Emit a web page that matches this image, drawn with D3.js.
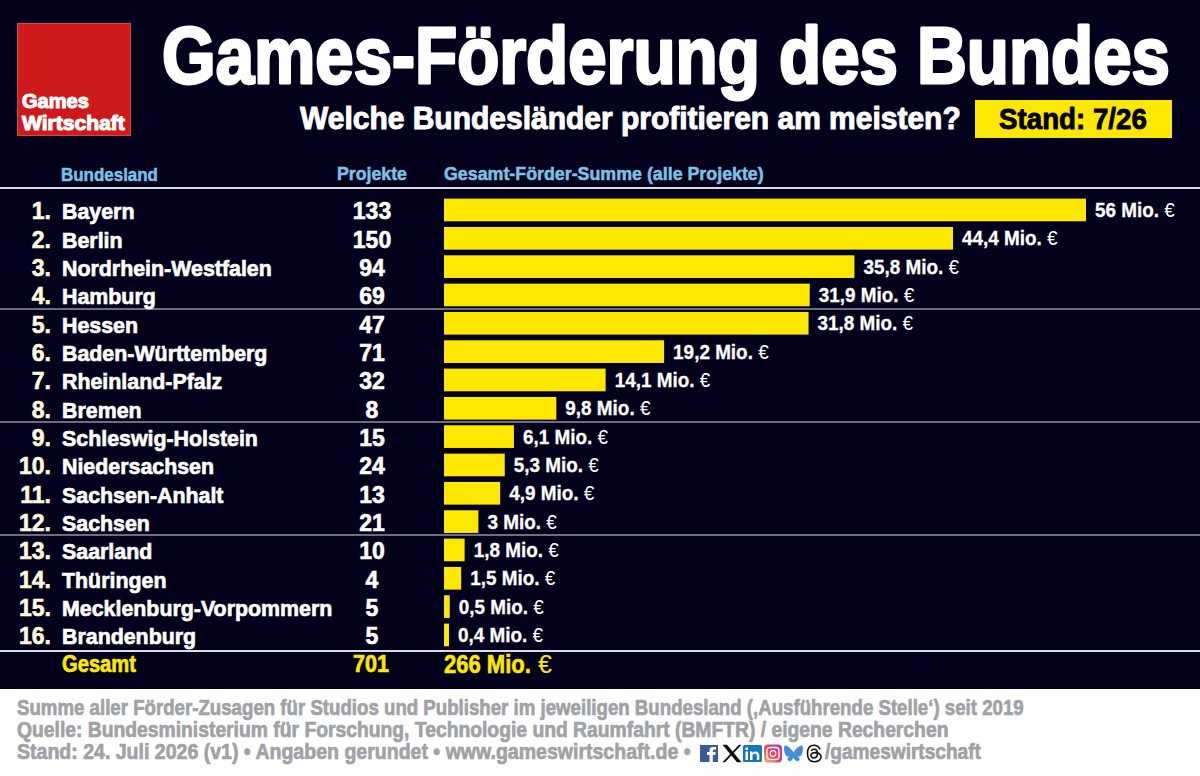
<!DOCTYPE html>
<html lang="de">
<head>
<meta charset="utf-8">
<script src="https://cdn.jsdelivr.net/npm/d3@7/dist/d3.min.js"></script>
<style>
  html, body { margin: 0; padding: 0; background: #fff; }
  svg { display: block; }
  text { font-family: "Liberation Sans Narrow", "Liberation Sans", sans-serif; font-weight: 700; }
</style>
</head>
<body>
<svg id="chart" width="1200" height="776"></svg>
<script>
const states = ["Bayern","Berlin","Nordrhein-Westfalen","Hamburg","Hessen","Baden-Württemberg","Rheinland-Pfalz","Bremen","Schleswig-Holstein","Niedersachsen","Sachsen-Anhalt","Sachsen","Saarland","Thüringen","Mecklenburg-Vorpommern","Brandenburg"];
const projects = [133,150,94,69,47,71,32,8,15,24,13,21,10,4,5,5];
const funding = [56,44.4,35.8,31.9,31.8,19.2,14.1,9.8,6.1,5.3,4.9,3,1.8,1.5,0.5,0.4];
const fundingLabels = ["56","44,4","35,8","31,9","31,8","19,2","14,1","9,8","6,1","5,3","4,9","3","1,8","1,5","0,5","0,4"];
const footnotes = [
  "Summe aller Förder-Zusagen für Studios und Publisher im jeweiligen Bundesland (‚Ausführende Stelle‘) seit 2019",
  "Quelle: Bundesministerium für Forschung, Technologie und Raumfahrt (BMFTR) / eigene Recherchen"
];

const svg = d3.select("#chart");
const NAVY = "#03001c", YELLOW = "#ffe800", BLUE = "#7cc3e3", GREY = "#a0a2a6", WHITE = "#ffffff";

const x = d3.scaleLinear().domain([0, 56]).range([444, 1086]);
const y = d3.scaleBand().domain(d3.range(16)).range([195.8, 649.1]).paddingInner(0.2).paddingOuter(0.1);
const rowMid = i => y(i) + y.bandwidth() / 2;

// Places a text and squeezes it horizontally so that it spans the given width.
function fitted(sel, str, left, baseline, size, width, fill, weight) {
  const g = sel.append("g").attr("transform", `translate(${left},${baseline})`);
  const t = g.append("text").attr("font-size", size).attr("fill", fill).text(str);
  if (weight) t.attr("stroke", fill).attr("stroke-width", weight).attr("stroke-linejoin", "round");
  const w = t.node().getComputedTextLength();
  g.attr("transform", `translate(${left},${baseline}) scale(${width / w},1)`);
  return g;
}

svg.append("rect").attr("width", 1200).attr("height", 776).attr("fill", WHITE);
svg.append("rect").attr("width", 1200).attr("height", 689).attr("fill", NAVY);

// Logo block
svg.append("rect").attr("x", 17.5).attr("y", 23.5).attr("width", 113).attr("height", 112)
  .attr("fill", "#cf1a1c").attr("stroke", "#d24a4c").attr("stroke-width", 1);
fitted(svg, "Games", 22, 108, 19.5, 67, WHITE, 1.1);
fitted(svg, "Wirtschaft", 22, 130, 19.5, 103, WHITE, 1.1);

// Header
fitted(svg, "Games-Förderung des Bundes", 162, 83, 80, 1008, WHITE, 3);
fitted(svg, "Welche Bundesländer profitieren am meisten?", 300, 129, 31, 661, WHITE, 1);
svg.append("rect").attr("x", 975).attr("y", 100).attr("width", 197).attr("height", 38).attr("fill", YELLOW);
fitted(svg, "Stand: 7/26", 999, 129, 29, 148, "#000", 0.9);

// Column headings
fitted(svg, "Bundesland", 61, 181, 19, 97, BLUE, 0.5);
fitted(svg, "Projekte", 337, 180, 19, 70, BLUE, 0.5);
fitted(svg, "Gesamt-Förder-Summe (alle Projekte)", 444, 180, 19, 320, BLUE, 0.5);

// Separators between rows
[[188, 2.2], [309, 1], [422, 1], [535, 1], [651, 2.2]].forEach(([yy, sw]) => {
  svg.append("line").attr("x1", 0).attr("x2", 1200).attr("y1", yy).attr("y2", yy)
    .attr("stroke", "#dcdce6").attr("stroke-width", sw);
});

// Rows: rank, name, projects
const rows = svg.append("g").selectAll("g").data(states).join("g");
rows.append("text").attr("x", 51).attr("y", (d, i) => rowMid(i) + 9.5)
  .attr("text-anchor", "end").attr("font-size", 23).attr("fill", "#fff8dc")
  .attr("stroke", "#fff8dc").attr("stroke-width", 0.6)
  .text((d, i) => `${i + 1}.`);
rows.append("text")
  .attr("transform", (d, i) => `translate(62,${rowMid(i) + 9.5}) scale(0.93,1)`)
  .attr("font-size", 23).attr("fill", WHITE).attr("stroke", WHITE).attr("stroke-width", 0.7)
  .text(d => d);
rows.append("text").attr("x", 372).attr("y", (d, i) => rowMid(i) + 9.5)
  .attr("text-anchor", "middle").attr("font-size", 23).attr("fill", WHITE)
  .attr("stroke", WHITE).attr("stroke-width", 0.6)
  .text((d, i) => projects[i]);

// Bars and their value labels
svg.append("g").selectAll("rect").data(funding).join("rect")
  .attr("x", x(0)).attr("y", (d, i) => y(i))
  .attr("width", d => Math.max(x(d) - x(0), 5)).attr("height", y.bandwidth())
  .attr("fill", YELLOW);
const valueLabels = svg.append("g").selectAll("text").data(funding).join("text")
  .attr("transform", (d, i) => `translate(${Math.max(x(d), x(0) + 5) + 9},${rowMid(i) + 7}) scale(0.97,1)`)
  .attr("font-size", 19.5).attr("fill", WHITE);
valueLabels.append("tspan").attr("stroke", WHITE).attr("stroke-width", 0.3)
  .text((d, i) => `${fundingLabels[i]} Mio. `);
valueLabels.append("tspan").style("font-weight", 400).text("€");

// Totals row
fitted(svg, "Gesamt", 62, 672, 24, 74, YELLOW, 0.7);
fitted(svg, "701", 353, 672, 24, 36, YELLOW, 0.7);
fitted(svg, "266 Mio.", 444, 673, 25, 87, YELLOW, 0.6);
svg.append("text").attr("x", 538).attr("y", 673).attr("font-size", 25).attr("fill", YELLOW)
  .style("font-weight", 400).text("€");

// Barely visible note in the totals row
svg.append("text").attr("x", 932).attr("y", 671).attr("font-size", 20).attr("fill", "#050510").text("2");
svg.append("text").attr("x", 948).attr("y", 671).attr("font-size", 10).attr("fill", "#050510").text("Mio. €");

// Footer
fitted(svg, footnotes[0], 17, 715, 21.5, 1007, GREY, 0.7);
fitted(svg, footnotes[1], 17, 737, 21.5, 932, GREY, 0.7);
fitted(svg, "Stand: 24. Juli 2026 (v1) • Angaben gerundet • www.gameswirtschaft.de •", 17, 759, 21.5, 674, GREY, 0.7);
fitted(svg, "/gameswirtschaft", 825, 759, 21.5, 156, GREY, 0.7);

// Social media icons in the footer line
const defs = svg.append("defs");
const insta = defs.append("linearGradient").attr("id", "instaFill")
  .attr("x1", 0).attr("y1", 1).attr("x2", 1).attr("y2", 0);
[["0%", "#fdc04f"], ["45%", "#ee3f5c"], ["100%", "#a43ac0"]].forEach(([o, c]) =>
  insta.append("stop").attr("offset", o).attr("stop-color", c));

const icons = svg.append("g");
icons.append("rect").attr("x", 700).attr("y", 745).attr("width", 18).attr("height", 17).attr("fill", "#3b5a9c");
icons.append("path").attr("d", "M709.5 762 V755 H707 V752 H709.5 V750 C709.5 747.5 711 746.5 716 747 V749.5 C713.5 749.3 712.8 749.8 712.8 751 V752 H715.8 L715.3 755 H712.8 V762 Z").attr("fill", WHITE);
icons.append("path").attr("d", "M723 745 L727 745 L741 762 L737 762 Z M739 745 L741 745 L725 762 L723 762 Z")
  .attr("fill", "#0a0a0a").attr("stroke", "#0a0a0a").attr("stroke-width", 0.5);
icons.append("rect").attr("x", 743).attr("y", 745).attr("width", 19).attr("height", 17).attr("rx", 1.5).attr("fill", "#1179b5");
icons.append("path").attr("d", "M745.5 751.5 H748 V760 H745.5 Z M745.5 747.5 H748 V750 H745.5 Z M750 751.5 H752.4 V753 C753.4 751 758.8 750.3 759.3 754.5 V760 H756.8 V755.5 C756.6 753 752.6 753 752.5 755.5 V760 H750 Z").attr("fill", WHITE);
icons.append("rect").attr("x", 764).attr("y", 744.5).attr("width", 18).attr("height", 18).attr("rx", 4).attr("fill", "url(#instaFill)");
icons.append("rect").attr("x", 767).attr("y", 747.5).attr("width", 12).attr("height", 12).attr("rx", 3).attr("fill", "none").attr("stroke", WHITE).attr("stroke-width", 1.3);
icons.append("circle").attr("cx", 773).attr("cy", 753.5).attr("r", 2.8).attr("fill", "none").attr("stroke", WHITE).attr("stroke-width", 1.2);
icons.append("path")
  .attr("d", "M793.5 752.5 C791 748 787 745 785 745.5 C783.5 746 784 751 785 754 C786 756.5 788 757 790 756.8 C787.5 757.5 786.5 759 788 760.5 C790 762.5 792.5 760 793.5 757.5 C794.5 760 797 762.5 799 760.5 C800.5 759 799.5 757.5 797 756.8 C799 757 801 756.5 802 754 C803 751 803.5 746 802 745.5 C800 745 796 748 793.5 752.5 Z")
  .attr("fill", "#3f8fdc");
icons.append("path")
  .attr("d", "M820 749.5 C819 746.5 816.5 745.3 814 745.3 C809.5 745.3 807.5 749 807.5 753.5 C807.5 758 809.5 761.7 814.5 761.7 C818.5 761.7 821 759.5 821 756.8 C821 753.8 818 752.4 814.5 752.6 C812 752.8 810.8 754.2 811 755.8 C811.2 757.4 813 758.1 814.5 757.9 C816.7 757.6 817.6 755.6 817.4 752.8 C817.2 750.3 815.6 749.2 813.8 749.3 C812.6 749.4 811.7 750 811.2 750.9")
  .attr("fill", "none").attr("stroke", "#111").attr("stroke-width", 1.6);
</script>
</body>
</html>
